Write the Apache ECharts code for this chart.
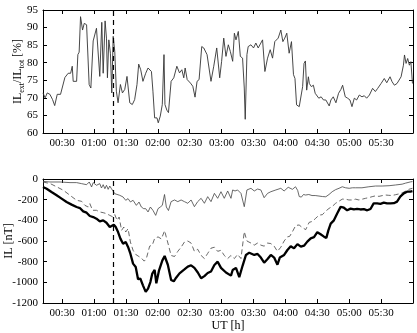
<!DOCTYPE html>
<html>
<head>
<meta charset="utf-8">
<script src="https://cdn.jsdelivr.net/npm/echarts@6/dist/echarts.min.js"></script>
<style>html,body{margin:0;padding:0;background:#fff}#c{width:417px;height:333px}</style>
</head>
<body>
<div id="c"></div>
<script>
// Time axis in minutes after 00:00 UT
const tickTimes = [30, 60, 90, 120, 150, 180, 210, 240, 270, 300, 330];
const tickLabels = ['00:30','01:00','01:30','02:00','02:30','03:00','03:30','04:00','04:30','05:00','05:30'];
const ratioTicks = [60, 65, 70, 75, 80, 85, 90, 95];
const ilTicks = [-1200, -1000, -800, -600, -400, -200, 0];
const eventTime = 78;

// Top panel: IL_ext / IL_tot [%]
const ratioSeries = [
[12,71.4],[14,70],[16,71.4],[18.5,71],[21,69.5],[23,67.8],[25.4,71],[28.5,71],[32.6,75.8],[35.7,77],[38,77],[39.5,79],[40.4,74.7],[42,75],[43.6,74.7],[44.8,82.3],[46,83],[47.3,93.1],[49.2,89.3],[50.8,91.2],[53,90.8],[55.4,73.8],[57,72.8],[59.2,86.2],[60.8,86.5],[62.3,89.8],[64,90],[65.4,76.1],[67.3,91.5],[68.6,77],[70.4,91.9],[71.7,87],[72.6,75.7],[73.9,86.5],[75.4,82.7],[76.7,71.4],[78,87.5],[79.5,83.2],[81,71.9],[82.6,68.6],[84.8,73.8],[86.7,71.4],[88.9,72.4],[91,76.1],[93.6,68.6],[96,68.1],[98.2,69.5],[100.4,73.8],[102,79.6],[103.9,78],[106,74.7],[108.6,77],[110.8,78.5],[114,77.5],[115.4,71.9],[117,64.3],[119.2,64.3],[120.4,62.9],[122.3,64.8],[124.2,68.1],[125.8,82.3],[126.7,68.1],[128.5,66.5],[130,65.8],[132.5,74.7],[135,75.7],[137.9,79],[140.4,77.1],[142.6,78],[144.4,75.7],[145.7,78.5],[147.6,75.2],[150.7,74.2],[152.9,73.3],[155,70.2],[156.9,74.7],[158.8,75.2],[161.3,84.6],[163.2,84.2],[166.3,82.3],[170,74.7],[172.6,79],[175.4,84.2],[178.2,75.7],[180,80.4],[182,87],[184.1,81.8],[186.3,85.1],[188.2,83.2],[190.4,80.4],[192,88.4],[193.5,86.5],[195.7,88.9],[197.6,81.8],[199.7,81.3],[201.3,72.8],[202.2,63.9],[203.8,82.3],[205,84.6],[207.6,85.1],[210,84.2],[212.2,85.6],[214.4,84.2],[216.9,85.6],[218.5,86.5],[220.7,77.5],[223.2,81.3],[225.7,83.7],[227.9,81.3],[230,86],[233.2,87],[235.7,89.3],[237.6,86],[239.4,87],[241.3,88.4],[243.5,82.7],[245.7,86],[247.6,76.6],[249,75.5],[250.5,68],[253,67.5],[254.7,67],[256.2,73.2],[257.5,79.8],[258.8,80.5],[260,72.2],[261.6,76],[262.5,74.1],[264.4,73.2],[266.3,73.6],[268,71.3],[269.5,71.8],[271.4,69.9],[273.6,70.3],[275.8,69.4],[278,69.4],[279.7,69.9],[281.2,67.7],[282.8,69.4],[285,70.3],[287.5,68.6],[290,71.3],[292.2,72.4],[293.8,73.6],[296.3,70.3],[298.5,69.9],[300.7,69.4],[302.6,67.5],[304.8,69.9],[307,69.4],[309.5,70.8],[312,70.3],[314.2,70.6],[316.4,69.9],[319,70.8],[322,72.7],[324.6,71.8],[326.8,72.7],[330,74.1],[333,75.5],[335.3,74.3],[338.4,76],[340.3,74.6],[342.5,73.6],[345,74.1],[348.8,76],[351,79.3],[352,82.2],[353.5,79.8],[355,81.2],[356.6,79.3],[358,80.3],[359.5,74.1]
];

// Bottom panel: IL [nT]
const ilThin = [
[12,-23],[18.6,-29],[28,-29],[37.4,-35],[43.6,-35],[48.3,-45],[53,-55],[55.5,-29],[57.7,-77],[59.2,-35],[62.3,-61],[65.4,-45],[67,-87],[68.6,-55],[70.2,-94],[71.7,-61],[73.3,-100],[74.8,-68],[76.4,-94],[78,-77],[79.5,-142],[81,-132],[84.2,-158],[87.3,-174],[89.8,-206],[92,-190],[94.2,-222],[96.7,-206],[99.8,-255],[102.3,-223],[104.5,-271],[106.7,-287],[108.6,-287],[110.8,-319],[113,-271],[115.4,-303],[118,-352],[120.2,-287],[122.3,-271],[124.2,-255],[126.3,-150],[128,-271],[130,-305],[132.5,-219],[135.7,-203],[138.8,-219],[141.9,-203],[145,-219],[148.2,-235],[151.3,-203],[154.4,-268],[157.5,-219],[160.7,-187],[163.8,-235],[166.9,-171],[170,-219],[173.2,-139],[176.3,-187],[179.4,-123],[182.5,-187],[185.7,-116],[188.8,-187],[190.4,-106],[192.6,-116],[195,-106],[198.2,-139],[201.3,-268],[203.8,-106],[207.6,-90],[210.7,-116],[213.8,-97],[216.9,-106],[220,-181],[223.2,-139],[226.3,-123],[231,-106],[235.7,-90],[238.8,-116],[242.6,-80],[246.6,-100],[249.5,-75],[251.5,-110],[253,-170],[255,-175],[257,-150],[259,-155],[262,-150],[265,-160],[268,-160],[271.6,-165],[275,-170],[278,-172],[281,-150],[284,-123],[287.2,-103],[290.4,-90],[293.5,-75],[296.6,-85],[300,-90],[303,-85],[306,-85],[312,-85],[318.5,-75],[324.8,-68],[331,-68],[337.5,-65],[343.5,-58],[349.8,-50],[353,-40],[357.6,-28],[359.5,-25]
];
const ilDashed = [
[12,-29],[18.9,-45],[25.1,-77],[31.3,-110],[37.4,-158],[43.6,-206],[48.3,-216],[51.4,-255],[54.5,-271],[56.1,-239],[58.6,-303],[62.3,-303],[65.4,-319],[68.6,-326],[71.7,-335],[74.8,-352],[78,-368],[79.5,-345],[81.7,-400],[83.6,-368],[85.9,-497],[88,-465],[89.8,-513],[92,-481],[94.2,-610],[96.7,-690],[99.2,-730],[101.4,-745],[104.5,-765],[107.2,-795],[109.2,-770],[112.3,-650],[114.8,-640],[117,-575],[120.2,-560],[123.3,-580],[126.4,-500],[127.9,-560],[130,-640],[132.5,-740],[135.7,-750],[138.8,-700],[141.9,-660],[145,-610],[148.2,-600],[151.3,-620],[154.4,-700],[157.5,-680],[160.7,-740],[163.8,-770],[166.9,-720],[170,-670],[173.2,-660],[176.3,-700],[179.4,-690],[182.5,-740],[185.7,-770],[188.8,-740],[192,-770],[195,-730],[198.2,-770],[201.3,-510],[203.8,-600],[207.6,-620],[210.7,-640],[213.8,-620],[216.9,-640],[220,-650],[223.2,-620],[226.3,-625],[229.4,-650],[232.5,-700],[235.7,-660],[238.8,-600],[241.9,-560],[244,-555],[246.6,-510],[249.7,-450],[252.9,-445],[255.9,-470],[259.1,-490],[262.3,-420],[265.4,-410],[268.5,-380],[271.6,-350],[274.8,-345],[278,-310],[281,-285],[284.1,-265],[287.2,-235],[290.4,-215],[293.5,-195],[296.6,-195],[299.7,-203],[302.9,-203],[306,-195],[309.1,-203],[312.3,-195],[315.4,-187],[318.5,-180],[321.6,-171],[324.8,-163],[328,-168],[331,-161],[334.1,-155],[337.2,-158],[340.3,-160],[343.5,-152],[346.6,-145],[349.8,-135],[352.9,-118],[356,-100],[359.5,-90]
];
const ilThick = [
[12,-77],[15.4,-94],[20,-126],[24.8,-158],[29.5,-190],[34.2,-223],[38.9,-248],[43.6,-271],[46.7,-281],[49.8,-313],[53,-326],[56,-358],[59.2,-368],[62.3,-384],[65.4,-410],[68.6,-400],[71.7,-423],[74.8,-465],[76.4,-448],[78.6,-442],[80.4,-465],[82.6,-513],[84.8,-577],[87.3,-626],[89.8,-610],[92,-658],[94.2,-723],[96.7,-819],[99.2,-851],[101.4,-970],[103.6,-965],[106,-1029],[108.6,-1092],[110.8,-1061],[113,-997],[114.8,-915],[117,-880],[118.6,-1010],[121,-890],[124.2,-790],[126.4,-745],[129.4,-830],[132.5,-977],[135,-990],[137.2,-955],[140.4,-913],[142,-929],[145,-875],[148.2,-848],[151.3,-835],[154.4,-860],[157.6,-905],[160.7,-961],[163.8,-940],[166.9,-910],[170,-895],[173.2,-832],[176.3,-800],[179.4,-860],[184.1,-905],[188.8,-935],[190.4,-881],[193.5,-860],[196.6,-950],[198.2,-945],[199.7,-840],[202.9,-735],[206,-713],[210.7,-735],[213.8,-725],[216.9,-760],[220,-810],[223.2,-775],[226.3,-735],[229.4,-760],[232.5,-830],[234.7,-760],[238.8,-735],[241.9,-687],[245,-650],[248.1,-671],[251.3,-630],[254.5,-655],[257.5,-645],[260.6,-606],[263.8,-574],[266.9,-563],[270,-515],[273.1,-535],[276.3,-558],[278.5,-570],[280.4,-497],[282.6,-432],[285.6,-400],[288.8,-332],[291.9,-270],[295,-278],[298.1,-303],[301.3,-287],[304.4,-295],[307.5,-290],[310.6,-295],[313.8,-292],[317,-303],[320,-290],[323,-236],[326.3,-236],[329.4,-240],[332.5,-229],[335.6,-236],[338.8,-236],[342,-234],[345,-219],[348,-171],[351.3,-139],[354.4,-123],[357.5,-123],[359.5,-118]
];

const FONT = 'Liberation Serif';
const fmtTime = v => { const i = tickTimes.indexOf(v); return i >= 0 ? tickLabels[i] : ''; };

function xAx(grid, pos, labels, extra) {
  return Object.assign({
    type: 'value', gridIndex: grid, position: pos, min: 12, max: 360,
    axisLine: { show: true, onZero: false, lineStyle: { color: '#000', width: 1 } },
    axisTick: { show: true, inside: true, length: 4, customValues: tickTimes, lineStyle: { color: '#000' } },
    axisLabel: { show: labels, customValues: tickTimes, formatter: fmtTime, color: '#000', fontFamily: FONT, fontSize: 11, margin: 5 },
    splitLine: { show: false }
  }, extra || {});
}
function yAx(grid, pos, ticks, labels, extra) {
  return Object.assign({
    type: 'value', gridIndex: grid, position: pos, min: ticks[0], max: ticks[ticks.length - 1],
    axisLine: { show: true, onZero: false, lineStyle: { color: '#000', width: 1 } },
    axisTick: { show: true, inside: true, length: 4, customValues: ticks, lineStyle: { color: '#000' } },
    axisLabel: { show: labels, customValues: ticks, formatter: v => String(v), color: '#000', fontFamily: FONT, fontSize: 11, margin: 5 },
    splitLine: { show: false }
  }, extra || {});
}

const chart = echarts.init(document.getElementById('c'), null, { renderer: 'canvas' });
const vline = {
  silent: true, symbol: 'none', label: { show: false },
  lineStyle: { type: [5, 4], color: '#000', width: 1.2 },
  data: [{ xAxis: eventTime }]
};
chart.setOption({
  animation: false,
  backgroundColor: '#fff',
  grid: [
    { left: 43, top: 10, width: 370, height: 123, containLabel: false, outerBoundsMode: 'none' },
    { left: 43, top: 179, width: 370, height: 124, containLabel: false, outerBoundsMode: 'none' }
  ],
  xAxis: [
    xAx(0, 'bottom', true),
    xAx(0, 'top', false),
    xAx(1, 'bottom', true, { name: 'UT [h]', nameLocation: 'middle', nameGap: 17, nameMoveOverlap: false,
      nameTextStyle: { color: '#000', fontFamily: FONT, fontSize: 12 } }),
    xAx(1, 'top', false)
  ],
  yAxis: [
    yAx(0, 'left', ratioTicks, true, {
      name: '{m|IL}{s|ext}{m|/IL}{s|tot}{m| [%]}', nameLocation: 'middle', nameRotate: 90, nameGap: 17, nameMoveOverlap: false,
      nameTextStyle: { color: '#000', fontFamily: FONT, fontSize: 12,
        rich: {
          m: { fontFamily: FONT, fontSize: 12, color: '#000', lineHeight: 16, verticalAlign: 'middle' },
          s: { fontFamily: FONT, fontSize: 8, color: '#000', lineHeight: 16, verticalAlign: 'bottom' }
        } }
    }),
    yAx(0, 'right', ratioTicks, false),
    yAx(1, 'left', ilTicks, true, {
      name: 'IL [nT]', nameLocation: 'middle', nameRotate: 90, nameGap: 28, nameMoveOverlap: false,
      nameTextStyle: { color: '#000', fontFamily: FONT, fontSize: 12 }
    }),
    yAx(1, 'right', ilTicks, false)
  ],
  series: [
    { type: 'line', xAxisIndex: 0, yAxisIndex: 0, data: ratioSeries, showSymbol: false,
      lineStyle: { color: '#333', width: 0.9 }, markLine: vline },
    { type: 'line', xAxisIndex: 2, yAxisIndex: 2, data: ilThin, showSymbol: false,
      lineStyle: { color: '#444', width: 0.8 }, markLine: vline },
    { type: 'line', xAxisIndex: 2, yAxisIndex: 2, data: ilDashed, showSymbol: false,
      lineStyle: { color: '#444', width: 0.8, type: [5, 3] } },
    { type: 'line', xAxisIndex: 2, yAxisIndex: 2, data: ilThick, showSymbol: false,
      lineStyle: { color: '#000', width: 2.3 } }
  ]
});
</script>
</body>
</html>
